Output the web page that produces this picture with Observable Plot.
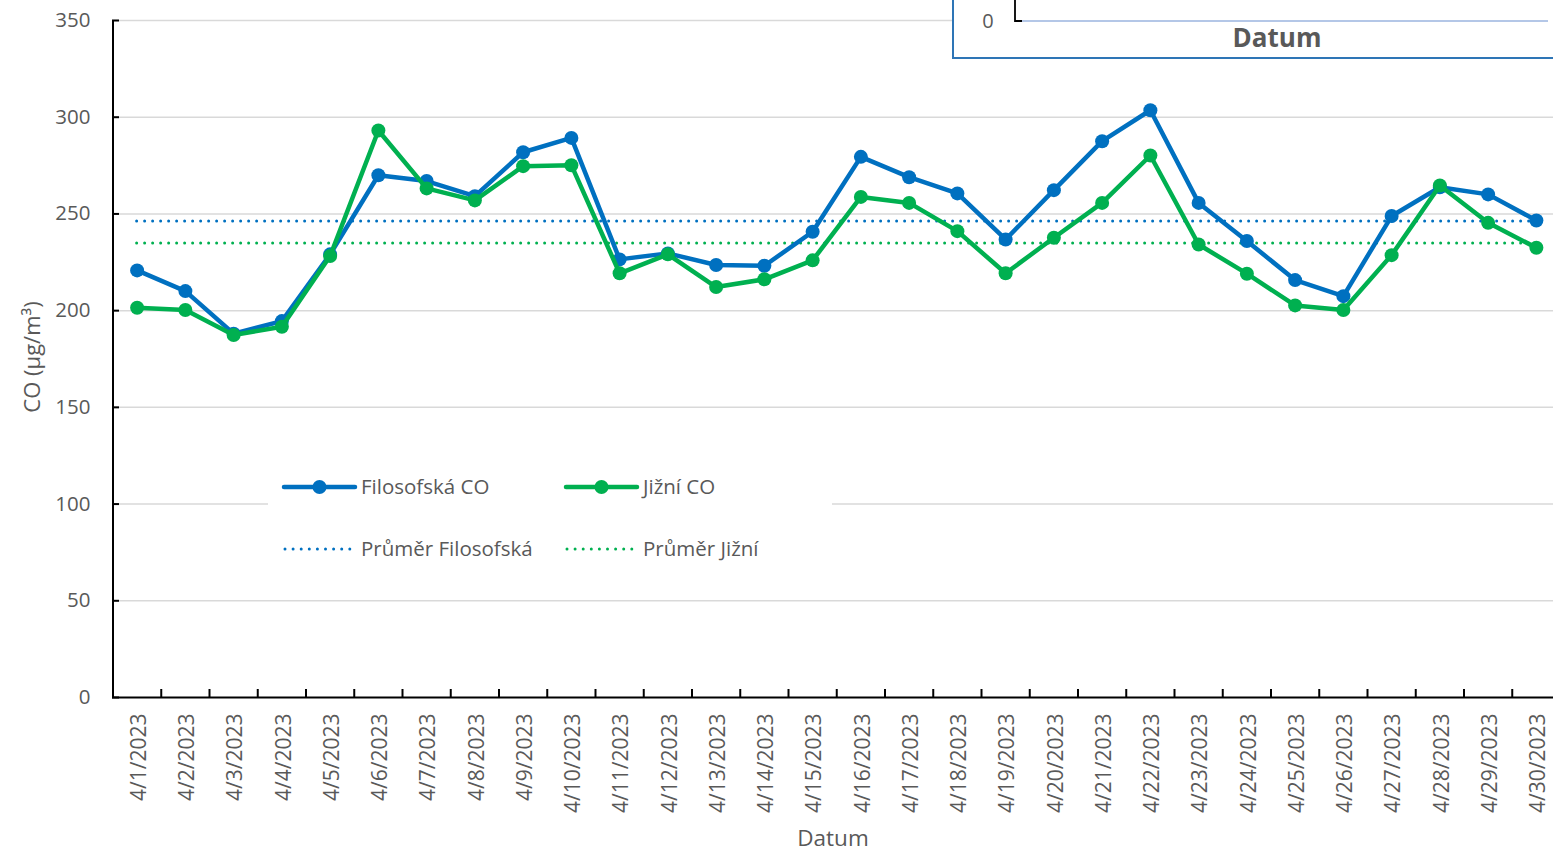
<!DOCTYPE html>
<html>
<head>
<meta charset="utf-8">
<script src="https://cdn.jsdelivr.net/npm/d3@7"></script>
<script src="https://cdn.jsdelivr.net/npm/@observablehq/plot@0.6"></script>
<style>
  html, body { margin: 0; padding: 0; background: #fff; }
  #chart { width: 1553px; height: 852px; overflow: hidden; }
</style>
</head>
<body>
<div id="chart"></div>
<script>
// ---- data ----
const categories = ["4/1/2023","4/2/2023","4/3/2023","4/4/2023","4/5/2023","4/6/2023","4/7/2023","4/8/2023","4/9/2023","4/10/2023",
  "4/11/2023","4/12/2023","4/13/2023","4/14/2023","4/15/2023","4/16/2023","4/17/2023","4/18/2023","4/19/2023","4/20/2023",
  "4/21/2023","4/22/2023","4/23/2023","4/24/2023","4/25/2023","4/26/2023","4/27/2023","4/28/2023","4/29/2023","4/30/2023"];
const filosofska = [220.8, 210.1, 188.1, 194.6, 229.1, 270.0, 267.0, 259.2, 281.9, 289.3,
  226.5, 229.6, 223.6, 223.2, 240.8, 279.5, 269.0, 260.6, 236.8, 262.3,
  287.6, 303.6, 255.7, 236.0, 215.8, 207.5, 248.9, 263.8, 260.1, 246.6];
const jizni = [201.5, 200.3, 187.4, 191.7, 228.2, 293.1, 263.2, 257.0, 274.7, 275.2,
  219.3, 229.1, 212.2, 216.2, 226.0, 258.8, 255.7, 241.1, 219.3, 237.7,
  255.7, 280.2, 234.2, 219.1, 202.7, 200.3, 228.7, 264.7, 245.4, 232.5];
const averages = [246.3, 235.0];
const seriesNames = ["Filosofská CO", "Jižní CO"];
const averageNames = ["Průměr Filosofská", "Průměr Jižní"];
const yTicks = [0, 50, 100, 150, 200, 250, 300, 350];
const yTitle = "CO (µg/m³)";
const xTitle = "Datum";

// ---- build ----
const BLUE = "#0070C0", GREEN = "#00B050", TXT = "#595959";
const FONT = "'Open Sans', Lato, 'Noto Sans', sans-serif";
const parse = d3.utcParse("%m/%d/%Y");
const dates = categories.map(parse);
const half = 12 * 3600 * 1000;
const xDomain = [new Date(+dates[0] - half), new Date(+dates[dates.length - 1] + half)];
const boundaries = dates.slice(0, -1).map(d => new Date(+d + half));
const rows = categories.map((c, i) => ({label: c, date: dates[i], filosofska: filosofska[i], jizni: jizni[i]}));

const W = 1553, H = 852, MT = 20, MB = 155, ML = 112, MR = 0;
const frameH = H - MT - MB, frameW = W - ML - MR;

const chart = Plot.plot({
  width: W, height: H,
  marginTop: MT, marginBottom: MB, marginLeft: ML, marginRight: MR,
  style: {fontFamily: FONT, background: "white", color: TXT, overflow: "visible"},
  x: {type: "utc", domain: xDomain, range: [112.5, 1560], axis: null},
  y: {domain: [0, 350], axis: null},
  marks: [
    Plot.ruleY(yTicks.filter(v => v > 0), {stroke: "#d9d9d9", strokeWidth: 1.5}),
    Plot.ruleY([averages[0]], {x1: dates[0], x2: dates[dates.length - 1], stroke: BLUE, strokeWidth: 3, strokeDasharray: "0 8", strokeLinecap: "round"}),
    Plot.ruleY([averages[1]], {x1: dates[0], x2: dates[dates.length - 1], stroke: GREEN, strokeWidth: 3, strokeDasharray: "0 8", strokeLinecap: "round"}),
    Plot.line(rows, {x: "date", y: "filosofska", stroke: BLUE, strokeWidth: 4.5, strokeLinejoin: "round"}),
    Plot.dot(rows, {x: "date", y: "filosofska", r: 7, fill: BLUE}),
    Plot.line(rows, {x: "date", y: "jizni", stroke: GREEN, strokeWidth: 4.5, strokeLinejoin: "round"}),
    Plot.dot(rows, {x: "date", y: "jizni", r: 7, fill: GREEN}),
    // axes lines
    Plot.ruleX([xDomain[0]], {y1: 0, y2: 350, stroke: "black", strokeWidth: 2}),
    Plot.ruleY([0], {stroke: "black", strokeWidth: 2.2}),
    // y ticks (inside)
    Plot.tickY(yTicks, {y: d => d, stroke: "black", strokeWidth: 2, insetRight: frameW - 7}),
    // x ticks at category boundaries (inside)
    Plot.tickX(boundaries, {x: d => d, stroke: "black", strokeWidth: 2, insetTop: frameH - 8}),
    // y tick labels
    Plot.text(yTicks, {y: d => d, text: d => String(d), frameAnchor: "left", textAnchor: "end", lineAnchor: "middle", dx: -22, fill: TXT, fontSize: 20.5}),
    // x tick labels
    Plot.text(rows, {x: "date", text: "label", frameAnchor: "bottom", rotate: -90, textAnchor: "end", lineAnchor: "middle", dy: 16, dx: 2, fill: TXT, fontSize: 21}),
    // axis titles
    Plot.text([yTitle], {frameAnchor: "left", textAnchor: "middle", lineAnchor: "middle", dx: -80, dy: -2, rotate: -90, fill: TXT, fontSize: 22}),
    Plot.text([xTitle], {frameAnchor: "bottom", textAnchor: "middle", lineAnchor: "middle", dy: 141, fill: TXT, fontSize: 22.5})
  ]
});

const svg = d3.select(chart);

// legend
const lg = svg.append("g").attr("font-family", FONT).attr("font-size", 20.5).attr("fill", TXT).attr("text-anchor", "start");
lg.append("rect").attr("x", 268).attr("y", 460).attr("width", 564).attr("height", 118).attr("fill", "white");
const cols = [{c: BLUE, x0: 284}, {c: GREEN, x0: 566}];
cols.forEach((col, i) => {
  lg.append("line").attr("x1", col.x0).attr("x2", col.x0 + 71).attr("y1", 487).attr("y2", 487)
    .attr("stroke", col.c).attr("stroke-width", 4.5).attr("stroke-linecap", "round");
  lg.append("circle").attr("cx", col.x0 + 35.5).attr("cy", 487).attr("r", 7).attr("fill", col.c);
  lg.append("text").attr("x", col.x0 + 77).attr("y", 487).attr("dy", "0.35em").attr("text-anchor", "start").text(seriesNames[i]);
  lg.append("line").attr("x1", col.x0 + 1).attr("x2", col.x0 + 67).attr("y1", 549).attr("y2", 549)
    .attr("stroke", col.c).attr("stroke-width", 3).attr("stroke-dasharray", "0 8.1").attr("stroke-linecap", "round");
  lg.append("text").attr("x", col.x0 + 77).attr("y", 549).attr("dy", "0.35em").attr("text-anchor", "start").text(averageNames[i]);
});

// overlapping inset (piece of another chart) at top right
const ins = svg.append("g").attr("font-family", FONT).attr("fill", TXT);
ins.append("rect").attr("x", 953).attr("y", -10).attr("width", 700).attr("height", 68)
  .attr("fill", "white").attr("stroke", "#2E75B6").attr("stroke-width", 2);
ins.append("text").attr("x", 988).attr("y", 21).attr("dy", "0.35em").attr("text-anchor", "middle").attr("font-size", 20).text("0");
ins.append("line").attr("x1", 1022).attr("x2", 1548).attr("y1", 21).attr("y2", 21).attr("stroke", "#B4C7E7").attr("stroke-width", 2);
ins.append("path").attr("d", "M1015,0V21H1022").attr("fill", "none").attr("stroke", "black").attr("stroke-width", 1.8);
ins.append("text").attr("x", 1277).attr("y", 38).attr("dy", "0.35em").attr("text-anchor", "middle")
  .attr("font-size", 26).attr("font-weight", "bold").text(xTitle);

document.getElementById("chart").appendChild(chart);
</script>
</body>
</html>
